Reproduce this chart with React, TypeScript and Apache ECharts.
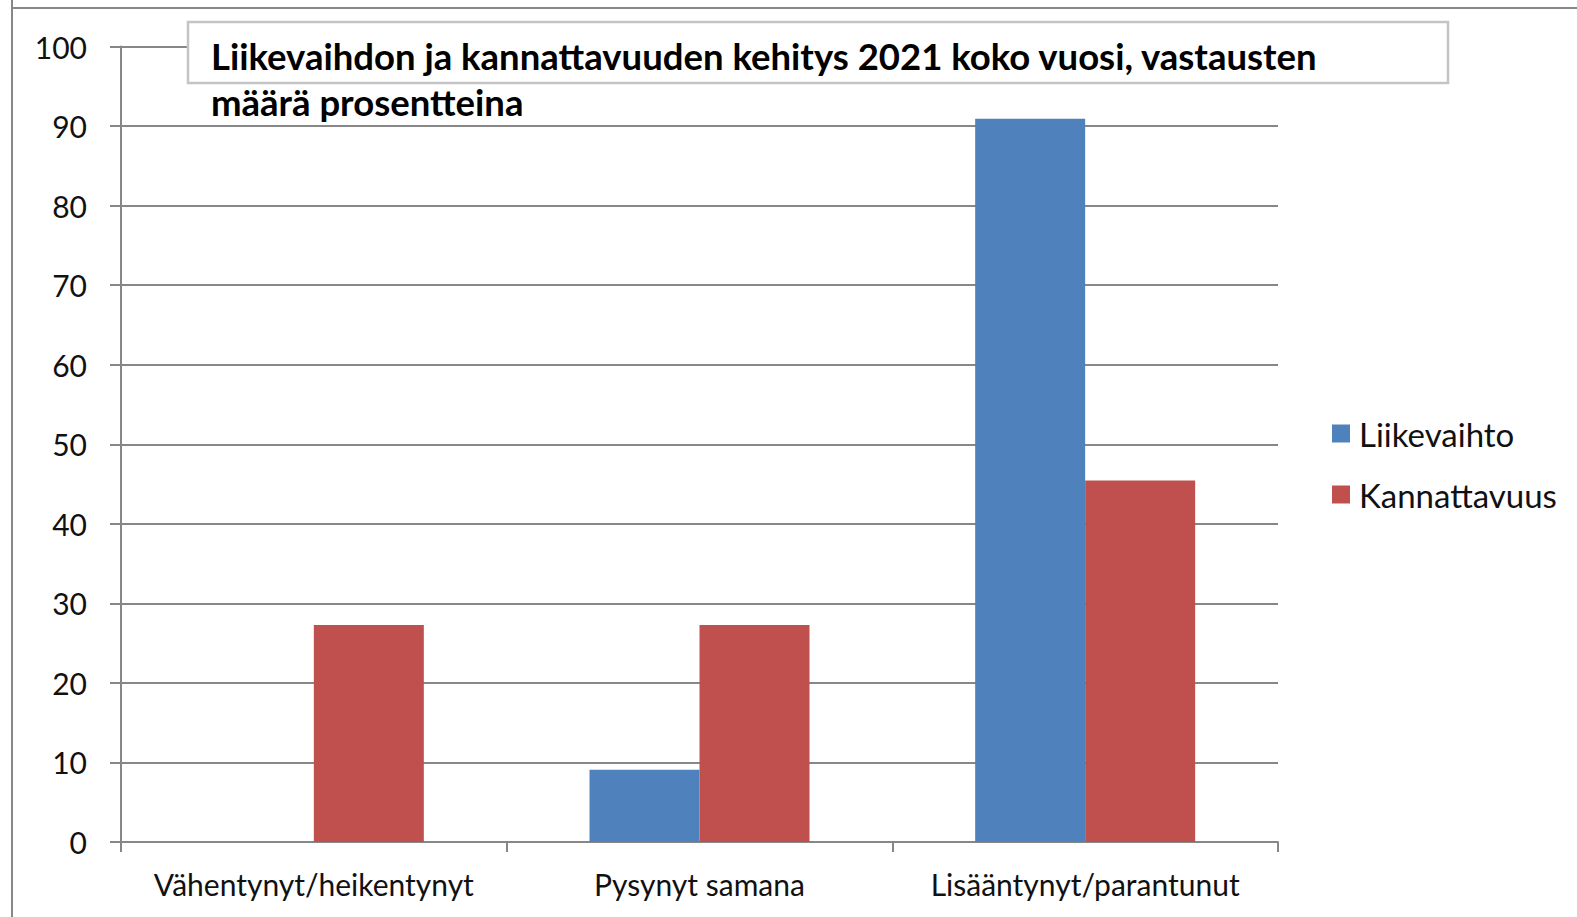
import React, { useEffect, useRef } from "react";
import * as echarts from "echarts";

const categories = ["Vähentynyt/heikentynyt", "Pysynyt samana", "Lisääntynyt/parantunut"];
const liikevaihto = [0, 9.09, 90.91];
const kannattavuus = [27.27, 27.27, 45.45];
const yTicks = { min: 0, max: 100, interval: 10 };
const titleText = "Liikevaihdon ja kannattavuuden kehitys 2021 koko vuosi, vastausten\nmäärä prosentteina";

const FONT = "Lato, 'Open Sans', sans-serif";
const GRAY = "#878787";

export default function App() {
  const ref = useRef<HTMLDivElement>(null);
  useEffect(() => {
    if (!ref.current) return;
    const chart = echarts.init(ref.current, undefined, { renderer: "svg" });
    chart.setOption({
      animation: false,
      backgroundColor: "#ffffff",
      textStyle: { fontFamily: FONT },
      title: {
        text: titleText,
        left: 211,
        top: 33,
        padding: 0,
        z: 30,
        textStyle: { fontSize: 36.5, fontWeight: "bold", color: "#000", lineHeight: 46, fontFamily: FONT },
      },
      legend: {
        orient: "vertical",
        left: 1327,
        top: 412,
        itemWidth: 18,
        itemHeight: 18,
        itemGap: 28,
        icon: "rect",
        textStyle: { fontSize: 33, color: "#111", fontFamily: FONT, padding: [0, 0, 0, 4] },
        data: ["Liikevaihto", "Kannattavuus"],
      },
      grid: { left: 121, right: 299, top: 46.5, bottom: 75, containLabel: false },
      xAxis: {
        type: "category",
        data: categories,
        axisLine: { lineStyle: { color: GRAY, width: 2 } },
        axisTick: { show: true, interval: 0, length: 10, lineStyle: { color: GRAY, width: 2 } },
        axisLabel: { interval: 0, fontSize: 30, color: "#111", margin: 27, fontFamily: FONT },
      },
      yAxis: {
        type: "value",
        min: yTicks.min,
        max: yTicks.max,
        interval: yTicks.interval,
        axisLine: { show: true, lineStyle: { color: GRAY, width: 2 } },
        axisTick: { show: true, length: 11, lineStyle: { color: GRAY, width: 2 } },
        splitLine: { lineStyle: { color: GRAY, width: 2 } },
        axisLabel: { fontSize: 30, color: "#111", margin: 34, fontFamily: FONT },
      },
      graphic: [
        { type: "line", z: 20, shape: { x1: 12, y1: 0, x2: 12, y2: 917 }, style: { stroke: GRAY, lineWidth: 2 } },
        { type: "line", z: 20, shape: { x1: 12, y1: 8, x2: 1577, y2: 8 }, style: { stroke: GRAY, lineWidth: 2 } },
        {
          type: "rect",
          z: 20,
          shape: { x: 188, y: 22, width: 1260, height: 61 },
          style: { fill: "#ffffff", stroke: "#c4c4c4", lineWidth: 2.5 },
        },
      ],
      series: [
        {
          name: "Liikevaihto",
          type: "bar",
          data: liikevaihto,
          barWidth: 110,
          barGap: "0%",
          itemStyle: { color: "#4F81BD" },
        },
        {
          name: "Kannattavuus",
          type: "bar",
          data: kannattavuus,
          barWidth: 110,
          barGap: "0%",
          itemStyle: { color: "#C0504D" },
        },
      ],
    });
    return () => chart.dispose();
  }, []);
  return <div ref={ref} style={{ position: "fixed", left: 0, top: 0, width: 1577, height: 917 }} />;
}
